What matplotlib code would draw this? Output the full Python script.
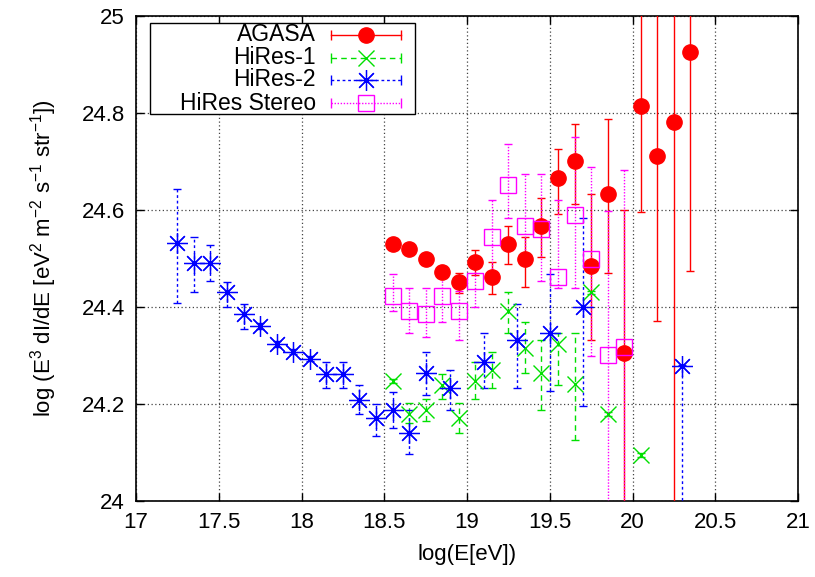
import matplotlib
matplotlib.use("Agg")
import matplotlib.pyplot as plt
from matplotlib.lines import Line2D
from matplotlib.patches import Rectangle
import numpy as np

plt.rcParams["font.family"] = ["Liberation Sans", "DejaVu Sans"]
plt.rcParams["mathtext.fontset"] = "custom"
plt.rcParams["mathtext.rm"] = "Liberation Sans"
plt.rcParams["mathtext.it"] = "Liberation Sans"
plt.rcParams["mathtext.default"] = "regular"

# AGASA
agasa_x = [18.55, 18.65, 18.75, 18.85, 18.95, 19.05, 19.15, 19.25, 19.35, 19.45,
           19.55, 19.65, 19.75, 19.85, 19.95, 20.05, 20.15, 20.25, 20.35]
agasa_y = [24.530, 24.520, 24.498, 24.473, 24.451, 24.493, 24.461, 24.530, 24.498, 24.568,
           24.665, 24.702, 24.485, 24.634, 24.305, 24.815, 24.712, 24.781, 24.925]
agasa_hi = [24.535, 24.525, 24.503, 24.480, 24.470, 24.517, 24.493, 24.568, 24.544, 24.625,
            24.726, 24.777, 24.632, 24.788, 24.599, 25.5, 25.5, 25.5, 25.5]
agasa_lo = [24.525, 24.515, 24.493, 24.466, 24.429, 24.467, 24.427, 24.489, 24.442, 24.504,
            24.592, 24.613, 24.331, 24.471, 23.5, 24.596, 24.372, 23.5, 24.475]

# HiRes-1
hires1_x = [18.55, 18.65, 18.75, 18.85, 18.95, 19.05, 19.15, 19.25, 19.35, 19.45,
            19.55, 19.65, 19.75, 19.85, 20.05]
hires1_y = [24.248, 24.180, 24.188, 24.240, 24.172, 24.248, 24.271, 24.392, 24.315, 24.264,
            24.324, 24.241, 24.430, 24.179, 24.095]
hires1_hi = [24.252, 24.202, 24.210, 24.262, 24.202, 24.287, 24.308, 24.430, 24.369, 24.331,
             24.346, 24.346, 24.434, 24.183, 24.099]
hires1_lo = [24.244, 24.161, 24.164, 24.210, 24.141, 24.210, 24.233, 24.346, 24.264, 24.188,
             24.240, 24.126, 24.426, 24.175, 24.091]

# HiRes-2
hires2_x = [17.25, 17.35, 17.45, 17.55, 17.65, 17.75, 17.85, 17.95, 18.05, 18.15,
            18.25, 18.35, 18.45, 18.55, 18.65, 18.75, 18.90, 19.10, 19.30, 19.50,
            19.70, 20.30]
hires2_y = [24.531, 24.491, 24.491, 24.430, 24.386, 24.361, 24.324, 24.308, 24.293, 24.262,
            24.262, 24.209, 24.171, 24.188, 24.141, 24.264, 24.233, 24.286, 24.331, 24.346,
            24.401, 24.278]
hires2_hi = [24.644, 24.544, 24.528, 24.452, 24.407, 24.368, 24.330, 24.313, 24.298, 24.286,
             24.286, 24.240, 24.201, 24.225, 24.187, 24.307, 24.271, 24.346, 24.407, 24.469,
             24.584, 24.280]
hires2_lo = [24.408, 24.431, 24.454, 24.401, 24.355, 24.354, 24.318, 24.303, 24.288, 24.233,
             24.233, 24.179, 24.135, 24.151, 24.097, 24.218, 24.188, 24.233, 24.232, 24.226,
             24.195, 23.5]

# HiRes Stereo
stereo_x = [18.55, 18.65, 18.75, 18.85, 18.95, 19.05, 19.15, 19.25, 19.35, 19.45,
            19.55, 19.65, 19.75, 19.85, 19.95]
stereo_y = [24.423, 24.392, 24.386, 24.423, 24.392, 24.453, 24.544, 24.651, 24.568, 24.561,
            24.461, 24.590, 24.499, 24.302, 24.317]
stereo_hi = [24.469, 24.439, 24.439, 24.485, 24.432, 24.485, 24.621, 24.736, 24.675, 24.675,
             24.621, 24.751, 24.689, 24.597, 24.682]
stereo_lo = [24.391, 24.346, 24.338, 24.369, 24.331, 24.401, 24.473, 24.584, 24.498, 24.453,
             24.439, 24.439, 24.300, 23.5, 23.5]

xticks = [17, 17.5, 18, 18.5, 19, 19.5, 20, 20.5, 21]
xticklabels = ["17", "17.5", "18", "18.5", "19", "19.5", "20", "20.5", "21"]
yticks = [24, 24.2, 24.4, 24.6, 24.8, 25]
yticklabels = ["24", "24.2", "24.4", "24.6", "24.8", "25"]

RED = "#ff0000"
GREEN = "#00e000"
BLUE = "#0000ff"
MAGENTA = "#ff00ff"

series = [
    ("AGASA", agasa_x, agasa_y, agasa_lo, agasa_hi, RED, "-", "o",
     dict(markersize=11, markerfacecolor=RED, markeredgecolor=RED)),
    ("HiRes-1", hires1_x, hires1_y, hires1_lo, hires1_hi, GREEN, (0, (4, 3)), "x",
     dict(markersize=11, markeredgewidth=1.0)),
    ("HiRes-2", hires2_x, hires2_y, hires2_lo, hires2_hi, BLUE, (0, (2, 2)), (8, 2, 0),
     dict(markersize=15, markeredgewidth=0.9)),
    ("HiRes Stereo", stereo_x, stereo_y, stereo_lo, stereo_hi, MAGENTA, (0, (1, 1.2)), "s",
     dict(markersize=11, markerfacecolor="none", markeredgewidth=1.0)),
]

fig = plt.figure(figsize=(8.15, 5.77), dpi=100)
ax = fig.add_axes([136 / 815, 76 / 577, 662 / 815, 485 / 577])

for name, x, y, lo, hi, col, ls, mk, mkw in series:
    x = np.array(x)
    y = np.array(y)
    yerr = [y - np.array(lo), np.array(hi) - y]
    eb = ax.errorbar(x, y, yerr=yerr, fmt="none", ecolor=col, elinewidth=1.0,
                     capsize=3, capthick=1.0, zorder=3)
    for lc in eb[2]:
        lc.set_linestyle(ls)
    ax.plot(x, y, linestyle="none", marker=mk, color=col, zorder=4, **mkw)

ax.set_xlim(17, 21)
ax.set_ylim(24, 25)
ax.set_xticks(xticks)
ax.set_xticklabels(xticklabels)
ax.set_yticks(yticks)
ax.set_yticklabels(yticklabels)
ax.tick_params(direction="in", length=6, width=1, top=True, right=True,
               labelsize=16, pad=8)
ax.grid(True, color="#444444", linestyle=(0, (1, 2)), linewidth=0.9)
ax.set_axisbelow(True)
for s in ax.spines.values():
    s.set_linewidth(1.2)

ax.set_xlabel("log(E[eV])", fontsize=16, labelpad=8)
ax.set_ylabel(r"log (E$^3$ dI/dE [eV$^2$ m$^{-2}$ s$^{-1}$ str$^{-1}$])", fontsize=16,
              labelpad=16)

# legend drawn by hand, gnuplot style (labels right aligned, bars with end caps)
box = Rectangle((0.021, 0.798), 0.4005, 0.188, transform=ax.transAxes,
                facecolor="white", edgecolor="black", linewidth=1.0, zorder=10)
ax.add_patch(box)
rows_y = [0.961, 0.914, 0.869, 0.820]
for (name, x, y, lo, hi, col, ls, mk, mkw), ry in zip(series, rows_y):
    ax.text(0.272, ry, name, transform=ax.transAxes, ha="right", va="center",
            fontsize=16.5, zorder=11)
    ax.add_line(Line2D([0.294, 0.400], [ry, ry], transform=ax.transAxes, color=col,
                       linestyle=ls, linewidth=1.0, zorder=11))
    ax.add_line(Line2D([0.294, 0.400], [ry, ry], transform=ax.transAxes, color=col,
                       linestyle="none", marker="|", markersize=7, markeredgewidth=1.0,
                       zorder=11))
    ax.add_line(Line2D([0.347], [ry], transform=ax.transAxes, color=col,
                       linestyle="none", marker=mk, zorder=12, **mkw))

fig.savefig("out.png", dpi=100)
